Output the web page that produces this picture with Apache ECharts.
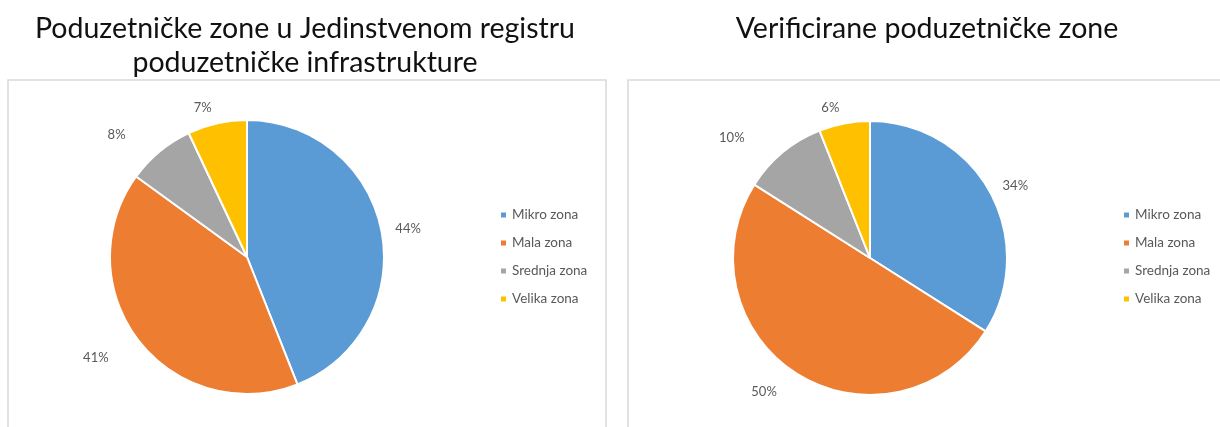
<!DOCTYPE html>
<html>
<head>
<meta charset="utf-8">
<title>Poduzetničke zone</title>
<script src="https://cdn.jsdelivr.net/npm/echarts@6.0.0/dist/echarts.min.js"></script>
</head>
<body style="margin:0;background:#fff">
<div id="main" style="width:1220px;height:427px"></div>
<script>
  // categories and shares (%)
  var zones = ['Mikro zona', 'Mala zona', 'Srednja zona', 'Velika zona'];
  var registry = [44, 41, 8, 7];
  var verified = [34, 50, 10, 6];
  var titles = ['Poduzetničke zone u Jedinstvenom registru\npoduzetničke infrastrukture', 'Verificirane poduzetničke zone'];

  var colors = ['#5B9BD5', '#ED7D31', '#A5A5A5', '#FFC000'];
  var font = 'Lato, "Open Sans", sans-serif';

  // how far each label sits off the rim, plus a nudge (Excel's best-fit placement)
  var labelOffsetLeft = [12, 28, 30, 16];
  var labelOffsetRight = [12, 22, 30, 16];
  var labelNudgeLeft = [[0, 0], [-6, 0], [-13, 6], [0, 0]];
  var labelNudgeRight = [[0, 0], [-6, 0], [-17, 8], [0, 0]];

  function pieData(vals, offs, nudges) {
    return zones.map(function (z, i) {
      return {
        name: z, value: vals[i],
        labelLine: { length: offs[i] },
        label: { offset: nudges[i] }
      };
    });
  }

  function pieSeries(vals, offs, nudges, center) {
    return {
      type: 'pie',
      center: center,
      radius: 137,
      startAngle: 90,
      clockwise: true,
      avoidLabelOverlap: false,
      animation: false,
      itemStyle: { borderColor: '#fff', borderWidth: 2 },
      label: {
        position: 'outside',
        formatter: '{c}%',
        color: '#595959',
        fontFamily: font,
        fontSize: 13,
        distanceToLabelLine: 2
      },
      labelLine: { show: false, length: 12, length2: 0 },
      emphasis: { disabled: true },
      data: pieData(vals, offs, nudges)
    };
  }

  function legend(left) {
    return {
      orient: 'vertical',
      left: left,
      top: 203,
      icon: 'rect',
      itemWidth: 7,
      itemHeight: 7,
      itemGap: 14,
      textStyle: { color: '#595959', fontFamily: font, fontSize: 13.5 },
      data: zones
    };
  }

  var titleStyle = { fontFamily: font, fontWeight: 'normal', fontSize: 28.5, lineHeight: 34, color: '#111' };

  var chart = echarts.init(document.getElementById('main'));
  chart.setOption({
    color: colors,
    title: [
      { text: titles[0], left: 300, top: 7, textAlign: 'center', textStyle: titleStyle },
      { text: titles[1], left: 922, top: 7, textAlign: 'center', textStyle: titleStyle }
    ],
    legend: [legend(494), legend(1117)],
    graphic: [
      { type: 'rect', shape: { x: 8, y: 80, width: 598, height: 360 },
        style: { fill: 'none', stroke: '#D9D9D9', lineWidth: 1.5 }, silent: true },
      { type: 'rect', shape: { x: 628, y: 80, width: 600, height: 360 },
        style: { fill: 'none', stroke: '#D9D9D9', lineWidth: 1.5 }, silent: true }
    ],
    series: [
      pieSeries(registry, labelOffsetLeft, labelNudgeLeft, [247, 257]),
      pieSeries(verified, labelOffsetRight, labelNudgeRight, [870, 258])
    ]
  });
</script>
</body>
</html>
